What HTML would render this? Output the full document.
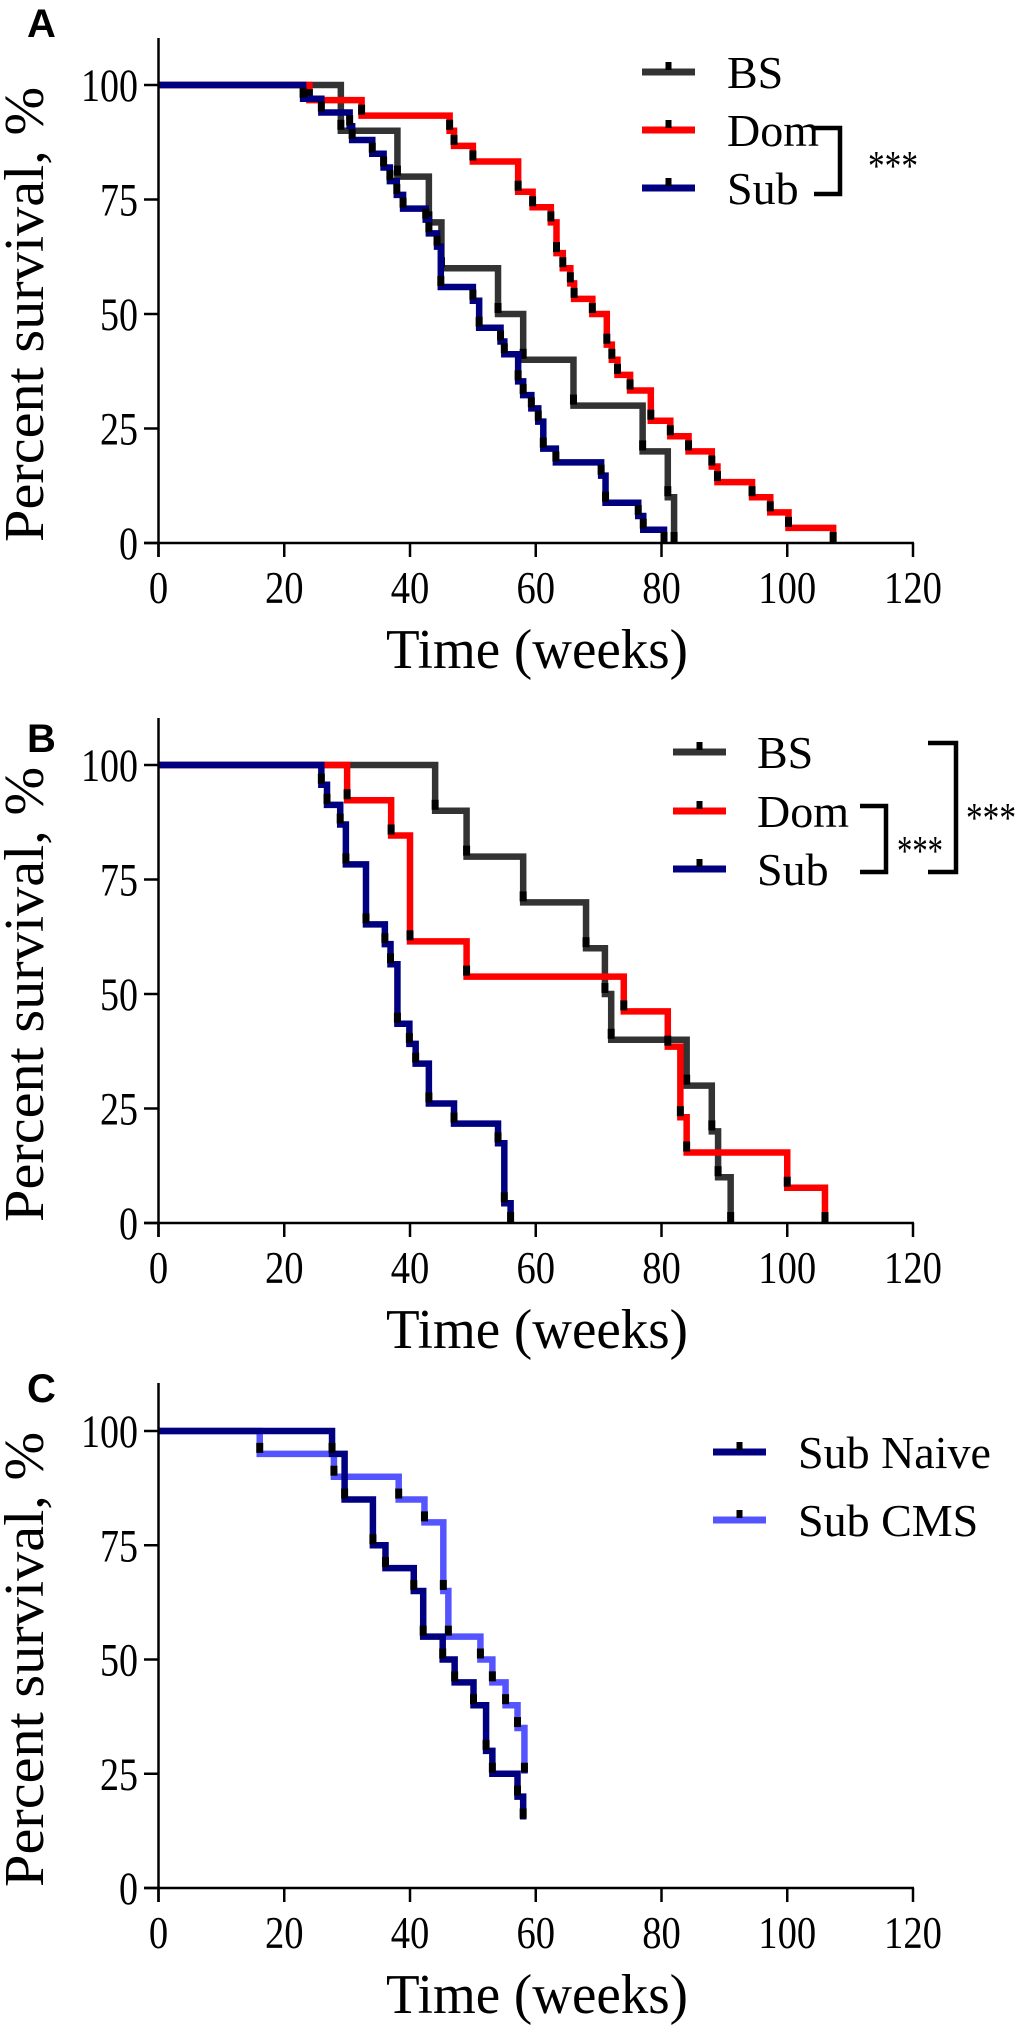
<!DOCTYPE html>
<html><head><meta charset="utf-8"><style>
html,body{margin:0;padding:0;background:#fff;}
svg{display:block;}
text{font-family:"Liberation Serif",serif;fill:#000;}
.lbl{font-family:"Liberation Sans",sans-serif;font-weight:bold;}
</style></head><body>
<svg id="fig" width="1020" height="2031" viewBox="0 0 1020 2031" xmlns="http://www.w3.org/2000/svg"></svg>
<script>
// ---------- data ----------
const xTicks = [0, 20, 40, 60, 80, 100, 120];
const yTicks = [0, 25, 50, 75, 100];

const aBsTimes = [29, 38, 43, 45, 54, 58, 66, 77, 81, 82];
const aBsSurv  = [90, 80, 70, 60, 50, 40, 30, 20, 10, 0];
const aDomTimes = [24, 32.3, 46.3, 47, 50, 57.2, 59.5, 62.4, 63.3, 64.3, 65.5, 66.1, 69, 71.3, 72.1, 73, 75, 78.3, 81.4, 84.3, 88, 88.9, 94.4, 97.3, 100.2, 107.3];
const aDomSurv  = [96.7, 93.3, 90, 86.7, 83.3, 76.7, 73.3, 70, 63.3, 60, 56.7, 53.3, 50, 43.3, 40, 36.7, 33.3, 26.7, 23.3, 20, 16.7, 13.3, 10, 6.7, 3.3, 0];
const aSubTimes = [23, 25.9, 30.4, 30.8, 34, 35.8, 36.8, 37.9, 38.9, 42.5, 43, 44.3, 44.9, 50, 51, 54.4, 55, 57.2, 58, 59.3, 60.4, 61.2, 63.2, 70.4, 71.1, 76.3, 77.1, 80.4];
const aSubSurv  = [97, 94, 91, 88, 85, 82, 79, 76, 73, 70.6, 67.6, 64.7, 55.9, 52.9, 47, 44, 41.2, 35.3, 32.3, 29.4, 26.5, 20.6, 17.6, 14.7, 8.8, 5.9, 2.9, 0];

const bBsTimes = [44, 49, 58, 68, 71, 72, 84, 88, 89, 91];
const bBsSurv  = [90, 80, 70, 60, 50, 40, 30, 20, 10, 0];
const bDomTimes = [30, 37, 40, 49, 74, 81, 83, 84, 100, 106];
const bDomSurv  = [92.3, 84.6, 61.5, 53.8, 46.2, 38.5, 23.1, 15.4, 7.7, 0];
const bSubTimes = [25.9, 26.8, 28.9, 29.8, 33, 36, 36.9, 38, 39.9, 40.9, 43, 47, 54, 55, 56];
const bSubSurv  = [95.7, 91.3, 87, 78.3, 65.2, 60.9, 56.5, 43.5, 39.1, 34.8, 26.1, 21.7, 17.4, 4.3, 0];

const cNaiveTimes = [27.6, 29.6, 34.1, 36.1, 40.6, 42.1, 45.2, 47.1, 50.1, 52.1, 53.1, 57.1, 58];
const cNaiveSurv  = [95, 85, 75, 70, 65, 55, 50, 45, 40, 30, 25, 20, 15];
const cCmsTimes = [16.1, 27.9, 38.2, 42.3, 45.3, 46.1, 51.2, 53.1, 55.2, 57.1, 58.2];
const cCmsSurv  = [95, 90, 85, 80, 65, 55, 50, 45, 40, 35, 25];

// ---------- drawing ----------
const NS = "http://www.w3.org/2000/svg";
const svg = document.getElementById("fig");
function mk(tag, attrs, parent, text) {
  const e = document.createElementNS(NS, tag);
  for (const k in attrs) e.setAttribute(k, attrs[k]);
  if (text !== undefined) e.textContent = text;
  (parent || svg).appendChild(e);
  return e;
}
const X0 = 158.5, X120 = 913;
function xs(t) { return X0 + (X120 - X0) * t / 120; }

function panel(name, letter, letterY, top, y100, y0, series, legend) {
  const g = mk("g", {});
  
  
  const ys = v => y0 - (y0 - y100) * v / 100;
  const L = mk("text", {x: 27, y: letterY, "font-size": 40, class: "lbl"}, g, letter);
  
  
  series.forEach(s => {
    let d = "M" + xs(0) + "," + ys(100);
    for (let i = 0; i < s.t.length; i++) {
      d += " H" + xs(s.t[i]) + " V" + ys(s.s[i]);
    }
    const p = mk("path", {d: d, fill: "none", stroke: s.color, "stroke-width": 6.5, "stroke-linejoin": "miter"}, g);
    
    
    for (let i = 0; i < s.t.length; i++) {
      const r = mk("rect", {x: xs(s.t[i]) - 3.5, y: ys(s.s[i]) - 11, width: 7, height: 10, fill: "#000"}, g);
      
      
    }
  });
  const ya = mk("line", {x1: X0, y1: top, x2: X0, y2: y0 + 14, stroke: "#000", "stroke-width": 2.5}, g);
  
  
  const xa = mk("line", {x1: 144, y1: y0, x2: X120 + 1, y2: y0, stroke: "#000", "stroke-width": 2.5}, g);
  
  
  yTicks.forEach(v => {
    const tk = mk("line", {x1: 144, y1: ys(v), x2: X0, y2: ys(v), stroke: "#000", "stroke-width": 2.5}, g);
    
    
    const s = String(v);
    const tl = mk("text", {x: 138, y: ys(v) + 16, "font-size": 47, "text-anchor": "end", textLength: 19 * s.length, lengthAdjust: "spacingAndGlyphs"}, g, s);
    
    
  });
  xTicks.forEach(v => {
    const tk = mk("line", {x1: xs(v), y1: y0, x2: xs(v), y2: y0 + 14, stroke: "#000", "stroke-width": 2.5}, g);
    
    
    const s = String(v);
    const tl = mk("text", {x: xs(v), y: y0 + 60, "font-size": 45, "text-anchor": "middle", textLength: 19.3 * s.length, lengthAdjust: "spacingAndGlyphs"}, g, s);
    
    
  });
  const xt = mk("text", {x: 537, y: y0 + 125, "font-size": 56, "text-anchor": "middle", textLength: 302, lengthAdjust: "spacingAndGlyphs"}, g, "Time (weeks)");
  
  
  const cy = (top + y0) / 2 + 24;
  const yt = mk("text", {x: 0, y: 0, "font-size": 56, "text-anchor": "middle", textLength: 455, lengthAdjust: "spacingAndGlyphs", transform: "translate(43," + cy + ") rotate(-90)"}, g, "Percent survival, %");
  
  
  legend.items.forEach(it => {
    const lg = mk("g", {}, g);
    
    
    mk("rect", {x: legend.x1, y: it.y - 3.5, width: legend.x2 - legend.x1, height: 7, fill: it.color}, lg);
    const mid = (legend.x1 + legend.x2) / 2;
    mk("rect", {x: mid - 3, y: it.y - 10, width: 6, height: 8, fill: "#000"}, lg);
    mk("text", {x: legend.tx, y: it.y + 16, "font-size": 46}, lg, it.label);
  });
  (legend.brackets || []).forEach(b => {
    const bp = mk("path", {d: "M" + b.x1 + "," + b.y1 + " H" + b.x2 + " V" + b.y2 + " H" + b.x1, fill: "none", stroke: "#000", "stroke-width": 4.5}, g);
    
    
    const st = mk("text", {x: b.sx, y: b.sy + 22, "font-size": 42, textLength: b.w, lengthAdjust: "spacingAndGlyphs"}, g, "***");
    
    
  });
}

panel("a", "A", 37, 38, 85, 543, [
  {key: "bs", t: aBsTimes, s: aBsSurv, color: "#333333"},
  {key: "dom", t: aDomTimes, s: aDomSurv, color: "#ff0000"},
  {key: "sub", t: aSubTimes, s: aSubSurv, color: "#000080"}
], {x1: 642, x2: 695, tx: 727, items: [
  {key: "bs", y: 72, color: "#333333", label: "BS"},
  {key: "dom", y: 130, color: "#ff0000", label: "Dom"},
  {key: "sub", y: 188, color: "#000080", label: "Sub"}
], brackets: [{x1: 814, x2: 840, y1: 128, y2: 194, sx: 868, sy: 158, w: 50}]});

panel("b", "B", 752, 718, 765, 1223, [
  {key: "bs", t: bBsTimes, s: bBsSurv, color: "#333333"},
  {key: "dom", t: bDomTimes, s: bDomSurv, color: "#ff0000"},
  {key: "sub", t: bSubTimes, s: bSubSurv, color: "#000080"}
], {x1: 673, x2: 726, tx: 757, items: [
  {key: "bs", y: 752, color: "#333333", label: "BS"},
  {key: "dom", y: 811, color: "#ff0000", label: "Dom"},
  {key: "sub", y: 869, color: "#000080", label: "Sub"}
], brackets: [
  {x1: 860, x2: 886, y1: 806, y2: 872, sx: 897, sy: 843, w: 46},
  {x1: 928, x2: 956, y1: 743, y2: 872, sx: 966, sy: 810, w: 50}
]});

panel("c", "C", 1402, 1383, 1431, 1888, [
  {key: "sub-naive", t: cNaiveTimes, s: cNaiveSurv, color: "#000080"},
  {key: "sub-cms", t: cCmsTimes, s: cCmsSurv, color: "#5555ff"}
].reverse(), {x1: 713, x2: 766, tx: 798, items: [
  {key: "sub-naive", y: 1452, color: "#000080", label: "Sub Naive"},
  {key: "sub-cms", y: 1520, color: "#5555ff", label: "Sub CMS"}
]});
</script>
</body></html>
